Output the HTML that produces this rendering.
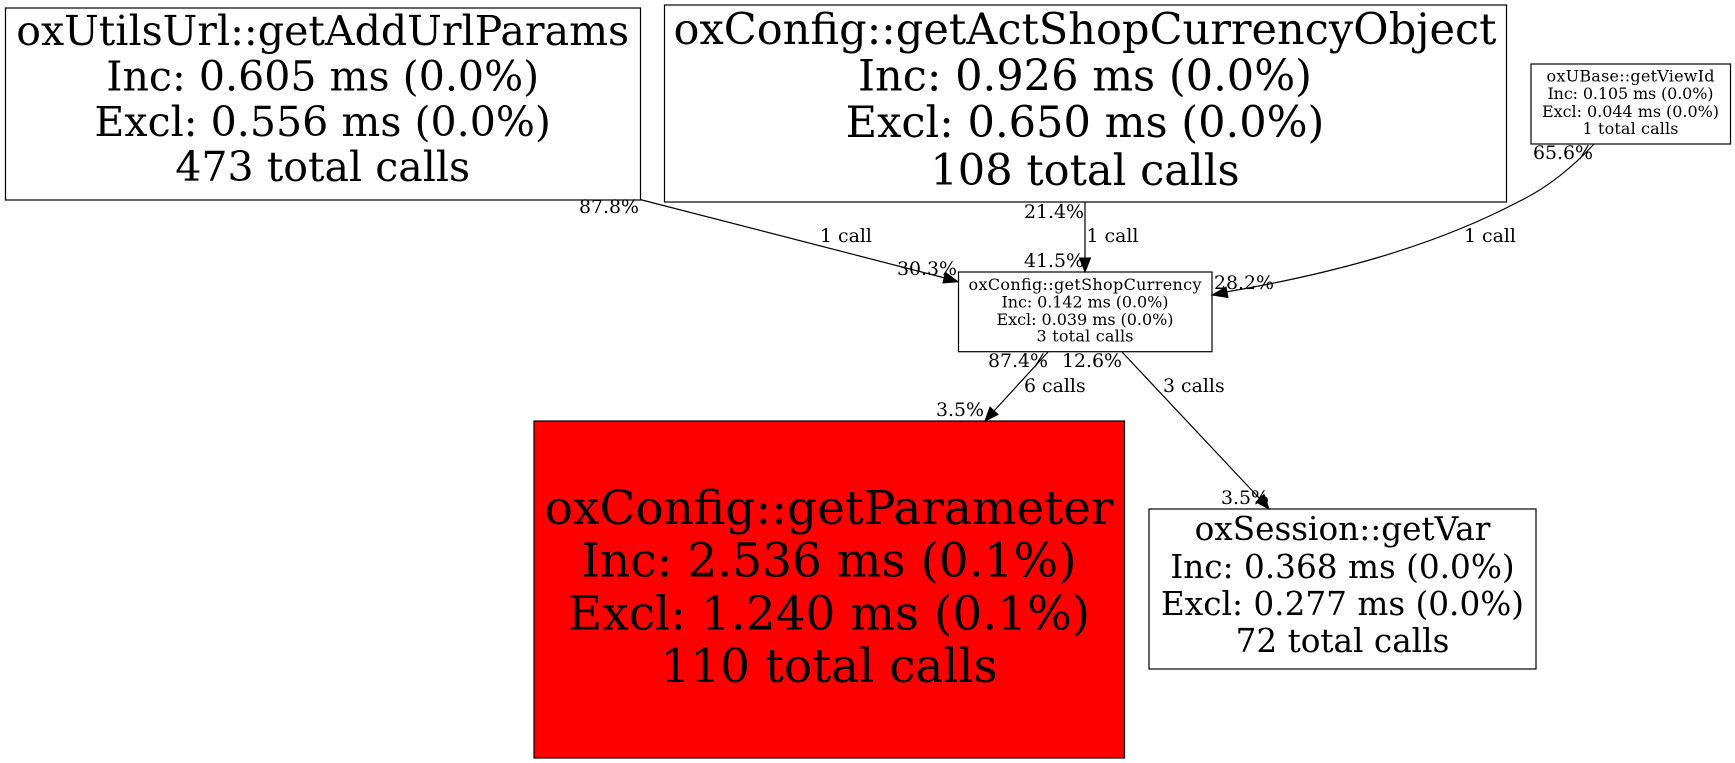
<!DOCTYPE html>
<html><head><meta charset="utf-8"><style>
html,body{margin:0;padding:0;background:#fff;width:1735px;height:763px;overflow:hidden}
svg{display:block}
text{font-family:"DejaVu Serif","Liberation Serif",serif;fill:#000}
.n{text-anchor:middle}
.f38{font-size:41.1px}.f40{font-size:43.1px}.f45{font-size:47px}.f31{font-size:32.7px}.f15{font-size:16px}
.e{font-size:18.9px}
.r{fill:#fff;stroke:#000;stroke-width:1.2}
.l{fill:none;stroke:#000;stroke-width:1.2}
.a{fill:#000;stroke:#000;stroke-width:1}
</style></head><body>
<svg width="1735" height="763" viewBox="0 0 1735 763" xmlns="http://www.w3.org/2000/svg">
<rect width="1735" height="763" fill="#fff"/>
<rect class="r" x="5.5" y="8" width="635" height="192"/>
<g class="n f38"><text x="322.7" y="45">oxUtilsUrl::getAddUrlParams</text><text x="322.7" y="90.7">Inc: 0.605 ms (0.0%)</text><text x="322.7" y="136">Excl: 0.556 ms (0.0%)</text><text x="322.7" y="181">473 total calls</text></g>
<rect class="r" x="664.5" y="5" width="842" height="197"/>
<g class="n f40"><text x="1085" y="44">oxConfig::getActShopCurrencyObject</text><text x="1085" y="90.7">Inc: 0.926 ms (0.0%)</text><text x="1085" y="137">Excl: 0.650 ms (0.0%)</text><text x="1085" y="185">108 total calls</text></g>
<rect class="r" x="1531" y="64" width="199.5" height="80"/>
<g class="n f15"><text x="1630.5" y="81.7" textLength="168">oxUBase::getViewId</text><text x="1630.5" y="99" textLength="166">Inc: 0.105 ms (0.0%)</text><text x="1630.5" y="117" textLength="177">Excl: 0.044 ms (0.0%)</text><text x="1630.5" y="134" textLength="96">1 total calls</text></g>
<rect class="r" x="958.5" y="272" width="253.5" height="79.7"/>
<g class="n f15"><text x="1085" y="290" textLength="233">oxConfig::getShopCurrency</text><text x="1085" y="307.3" textLength="167">Inc: 0.142 ms (0.0%)</text><text x="1085" y="325" textLength="177">Excl: 0.039 ms (0.0%)</text><text x="1085" y="341.7" textLength="97">3 total calls</text></g>
<rect x="534" y="421" width="590.5" height="337" fill="#f00" stroke="#000" stroke-width="1.2"/>
<g class="n f45"><text x="829" y="524">oxConfig::getParameter</text><text x="829" y="576.7">Inc: 2.536 ms (0.1%)</text><text x="829" y="629.7">Excl: 1.240 ms (0.1%)</text><text x="829" y="682">110 total calls</text></g>
<rect class="r" x="1149" y="509" width="387" height="160"/>
<g class="n f31"><text x="1342.5" y="540">oxSession::getVar</text><text x="1342.5" y="578">Inc: 0.368 ms (0.0%)</text><text x="1342.5" y="615">Excl: 0.277 ms (0.0%)</text><text x="1342.5" y="652">72 total calls</text></g>

<path class="l" d="M640,199.5 L945,278"/>
<polygon class="a" points="958,281.7 943,283 945.5,272.5"/>
<path class="l" d="M1085,202 L1085,258"/>
<polygon class="a" points="1085,272 1079.5,258 1090.5,258"/>
<path class="l" d="M1594,144 C1570,170 1545,189 1518,202 C1430,248 1330,274 1226,292"/>
<polygon class="a" points="1212,295 1226,287 1228,297.5"/>
<path class="l" d="M1048,352 L994,411"/>
<polygon class="a" points="985,421 990,407 998,414.5"/>
<path class="l" d="M1122,352 L1260,499"/>
<polygon class="a" points="1269,509 1256,502 1264,494.5"/>

<g class="e">
<text x="579" y="213">87.8%</text>
<text x="820" y="242">1 call</text>
<text x="897" y="275">30.3%</text>
<text x="1024" y="218">21.4%</text>
<text x="1086.5" y="242">1 call</text>
<text x="1024" y="267">41.5%</text>
<text x="1533" y="159">65.6%</text>
<text x="1464" y="242">1 call</text>
<text x="1214" y="289">28.2%</text>
<text x="988" y="367">87.4%</text>
<text x="1062" y="367">12.6%</text>
<text x="1024" y="392">6 calls</text>
<text x="1163" y="392">3 calls</text>
<text x="936" y="416">3.5%</text>
<text x="1221" y="504">3.5%</text>
</g>
</svg>
</body></html>
